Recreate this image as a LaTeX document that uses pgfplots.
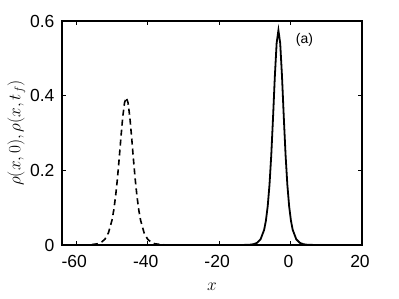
\documentclass[border=0pt]{standalone}
\usepackage{pgfplots}
\pgfplotsset{compat=1.18}
\usepackage{fontspec}
\setmainfont{Liberation Sans}
\begin{document}
\begin{tikzpicture}
\begin{axis}[
  width=300pt, height=224pt, scale only axis,
  xmin=-64, xmax=20, ymin=0, ymax=0.6,
  xtick={-60,-40,-20,0,20}, xticklabels={-60,-40,-20,{0\hspace{8pt}},{20\hspace{9pt}}},
  ytick={0,0.2,0.4,0.6}, yticklabels={0,0.2,0.4,0.6},
  tick align=inside, major tick length=4pt,
  axis line style={line width=1.1pt}, tick style={line width=0.8pt, black},
  tick label style={font=\fontsize{17.5}{20}\selectfont},
  label style={font=\fontsize{17.5}{20}\selectfont},
  xticklabel style={anchor=north, yshift=-7pt, xshift=-2pt},
  yticklabel style={anchor=east, xshift=-4pt},
  xlabel={$x$}, ylabel={$\rho(x,0),\rho(x,t_f)$},
  xlabel style={at={(rel axis cs:0.5,0)}, anchor=north, yshift=-35pt},
  ylabel style={yshift=-2pt},
  clip=false,
]
% initial profile rho(x,0)
\addplot[black, line width=1.6pt, dash pattern=on 6pt off 4pt] coordinates {
(-64,0) (-58,0.0001) (-56,0.0007) (-54,0.0033) (-53,0.0072) (-52,0.0153) (-51,0.0323)
(-50,0.0665) (-49.5,0.0938) (-49,0.1300) (-48.5,0.1758) (-48,0.2299) (-47.5,0.2880)
(-47,0.3419) (-46.5,0.3807) (-46,0.395) (-45.5,0.3807) (-45,0.3419) (-44.5,0.2880)
(-44,0.2299) (-43.5,0.1758) (-43,0.1300) (-42.5,0.0938) (-42,0.0665) (-41,0.0323)
(-40,0.0153) (-39,0.0072) (-38,0.0033) (-36,0.0007) (-34,0.0001) (20,0)
};
% final profile rho(x,t_f)
\addplot[black, line width=1.8pt] coordinates {
(-64,0) (-13.4,0.0001) (-11.4,0.0008) (-10.4,0.0021) (-9.4,0.0057) (-8.4,0.0153)
(-7.4,0.0406) (-6.9,0.0654) (-6.4,0.1039) (-5.9,0.1612) (-5.4,0.2415) (-4.9,0.3430)
(-4.4,0.4522) (-3.9,0.5405) (-3.4,0.575) (-2.9,0.5405) (-2.4,0.4522) (-1.9,0.3430)
(-1.4,0.2415) (-0.9,0.1612) (-0.4,0.1039) (0.1,0.0654) (0.6,0.0406) (1.6,0.0153)
(2.6,0.0057) (3.6,0.0021) (4.6,0.0008) (6.6,0.0001) (20,0)
};
\node[font=\fontsize{14}{16}\selectfont] at (axis cs:3.9,0.549) {(a)};
\end{axis}
\path (-62pt,-54pt) rectangle (337pt,245pt);
\end{tikzpicture}
\end{document}
